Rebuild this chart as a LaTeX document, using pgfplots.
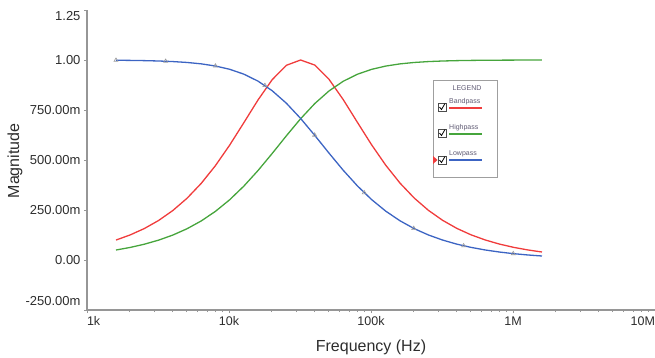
\documentclass[border=0pt]{standalone}
\usepackage{fontspec}
\setmainfont{Liberation Sans}
\usepackage{pgfplots}
\usepackage{pgfplotstable}
\pgfplotsset{compat=1.18}
\definecolor{bpred}{RGB}{240,60,60}
\definecolor{hpgreen}{RGB}{70,165,60}
\definecolor{lpblue}{RGB}{60,100,195}
\definecolor{axgray}{RGB}{150,150,150}
\definecolor{txt}{RGB}{45,45,45}
\definecolor{legtxt}{RGB}{95,90,115}

\pgfplotstableread{
f lp hp bp
1600 0.99875 0.04994 0.09975
2014.3 0.99803 0.06283 0.12540
2535.9 0.99688 0.07899 0.15749
3192.5 0.99506 0.09927 0.19755
4019.0 0.99220 0.12461 0.24728
5059.6 0.98773 0.15617 0.30851
6369.6 0.98076 0.19522 0.38293
8018.9 0.97001 0.24308 0.47158
10095 0.95367 0.30086 0.57385
12709 0.92938 0.36911 0.68610
16000 0.89443 0.44721 0.80000
20143 0.84630 0.53271 0.90167
25359 0.78375 0.62109 0.97355
31925 0.70795 0.70627 0.99999
40190 0.62288 0.78231 0.97459
50596 0.53452 0.84515 0.90351
63696 0.44891 0.89357 0.80227
80189 0.37063 0.92878 0.68847
100950 0.30216 0.95325 0.57608
127090 0.24416 0.96973 0.47355
160000 0.19612 0.98058 0.38462
201430 0.15690 0.98762 0.30991
253590 0.12520 0.99213 0.24843
319250 0.09974 0.99502 0.19848
401900 0.07937 0.99685 0.15824
505960 0.06312 0.99800 0.12599
636960 0.05017 0.99874 0.10022
801890 0.03987 0.99920 0.07968
1009500 0.03168 0.99950 0.06333
1270900 0.02517 0.99968 0.05033
1600000 0.02000 0.99980 0.03998
}\filt

\pgfplotstableread{
f lp
1600 0.99875
3580 0.9938
8020 0.9701
17900 0.8730
40100 0.6247
89600 0.3363
200000 0.1580
449000 0.0711
1004000 0.0318
}\marks

\begin{document}
\begin{tikzpicture}
\begin{axis}[
  scale only axis, width=568pt, height=300pt,
  xmode=log, log basis x=10,
  xmin=1e3, xmax=1e7, ymin=-0.25, ymax=1.25,
  axis x line*=bottom, axis y line*=left,
  axis line style={axgray, line width=1.2pt},
  tick align=outside, major tick length=3pt, minor tick length=2pt,
  tick style={axgray, line width=0.8pt},
  xtick={1e3,1e4,1e5,1e6,1e7},
  xticklabels={\rlap{1k},10k,100k,1M,\llap{10M}},
  minor xtick={2e3,3e3,4e3,5e3,6e3,7e3,8e3,9e3,2e4,3e4,4e4,5e4,6e4,7e4,8e4,9e4,2e5,3e5,4e5,5e5,6e5,7e5,8e5,9e5,2e6,3e6,4e6,5e6,6e6,7e6,8e6,9e6},
  ytick={-0.25,0,0.25,0.5,0.75,1,1.25},
  yticklabels={\raisebox{9pt}[\height][\depth]{-250.00m},0.00,250.00m,500.00m,750.00m,1.00,\raisebox{-6pt}[\height][\depth]{1.25}},
  yticklabel style={font=\fontsize{13}{15}\selectfont, text=txt},
  xticklabel style={font=\fontsize{12.5}{15}\selectfont, text=txt},
  xlabel={Frequency (Hz)}, ylabel={Magnitude},
  every axis x label/.style={at={(rel axis cs:0.5,0)}, yshift=-37pt, anchor=center, font=\fontsize{16}{18}\selectfont, text=txt},
  every axis y label/.style={at={(rel axis cs:0,0.497)}, xshift=-72pt, rotate=90, anchor=center, font=\fontsize{16}{18}\selectfont, text=txt},
  clip=false,
]
\addplot[bpred, line width=1.3pt] table[x=f, y=bp] {\filt};
\addplot[hpgreen, line width=1.3pt] table[x=f, y=hp] {\filt};
\addplot[lpblue, line width=1.3pt] table[x=f, y=lp] {\filt};
\addplot[only marks, mark=triangle, mark size=2.3pt, mark options={gray!80, line width=0.6pt}] table[x=f, y=lp] {\marks};
\coordinate (ll) at (rel axis cs:0,0);
\coordinate (ur) at (rel axis cs:1,1);
\end{axis}
\begin{scope}[shift={(ll)}, x=1pt, y=-1pt, shift={(-87,-310)}]
  \draw[gray!75, line width=0.7pt] (433,80) rectangle (497,177);
  \node[font=\fontsize{7}{8}\selectfont, text=legtxt] at (467,88) {LEGEND};
  \foreach \cy/\ty/\uy/\col/\lab in {107/102/108/bpred/Bandpass, 133/128/134/hpgreen/Highpass, 160/154/160/lpblue/Lowpass}{
    \draw[black!70, line width=0.6pt, fill=white] (438,\cy-4) rectangle (446,\cy+4);
    \draw[black, line width=0.8pt] (439.5,\cy) -- (441.5,\cy+2.5) -- (445,\cy-3.5);
    \node[font=\fontsize{7}{8}\selectfont, text=legtxt, anchor=west, inner sep=0pt] at (449,\ty) {\lab};
    \draw[\col, line width=1.2pt] (449,\uy) -- (482,\uy);
  }
  \fill[bpred] (433,156) -- (437.5,160) -- (433,164) -- cycle;
\end{scope}
\pgfresetboundingbox
\path[use as bounding box] ([shift={(-87pt,-47pt)}]ll) rectangle ([shift={(0pt,10pt)}]ur);
\end{tikzpicture}
\end{document}
